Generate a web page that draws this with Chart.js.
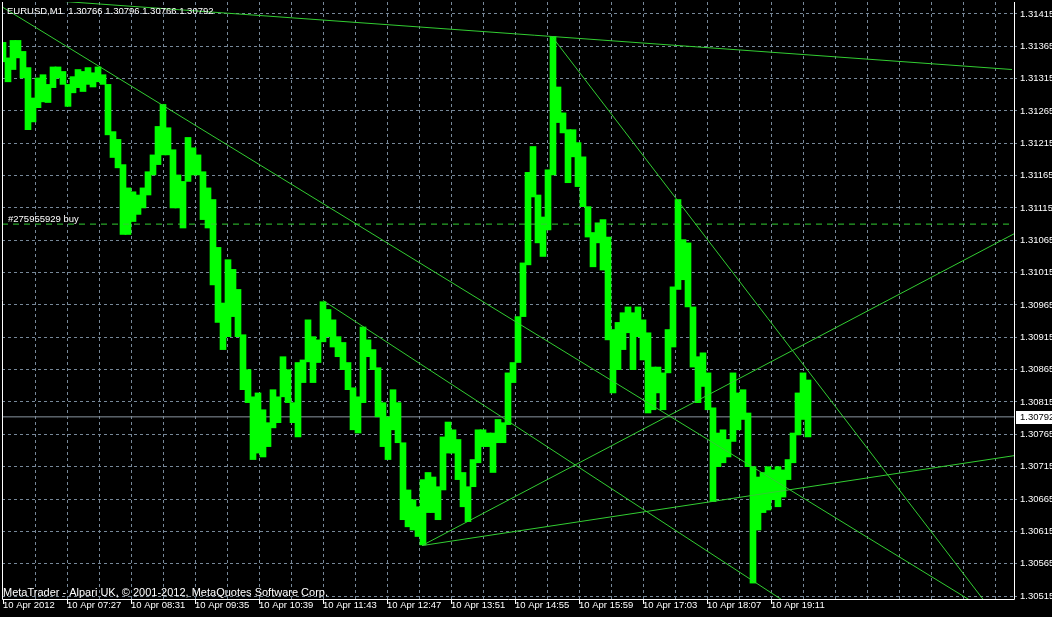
<!DOCTYPE html>
<html>
<head>
<meta charset="utf-8">
<script src="https://cdn.jsdelivr.net/npm/chart.js@4.4.0/dist/chart.umd.min.js"></script>
<style>
  html, body { margin: 0; padding: 0; background: #000; }
  canvas { display: block; }
</style>
</head>
<body>
<canvas id="priceChart" width="1052" height="617"></canvas>
<script>
// bar times, minutes since midnight (5 minute columns)
const barTimes = [
  383,388,393,398,403,408,413,418,423,428,433,438,443,448,453,458,463,468,473,478,
  483,488,493,498,503,508,513,518,523,528,533,538,543,548,553,558,563,568,573,578,
  583,588,593,598,603,608,613,618,623,628,633,638,643,648,653,658,663,668,673,678,
  683,688,693,698,703,708,713,718,723,728,733,738,743,748,753,758,763,768,773,778,
  783,788,793,798,803,808,813,818,823,828,833,838,843,848,853,858,863,868,873,878,
  883,888,893,898,903,908,913,918,923,928,933,938,943,948,953,958,963,968,973,978,
  983,988,993,998,1003,1008,1013,1018,1023,1028,1033,1038,1043,1048,1053,1058,1063,1068,1073,1078,
  1083,1088,1093,1098,1103,1108,1113,1118,1123,1128,1133,1138,1143,1148,1153,1158,1163,1168,1173,1178,
  1183,1188
];
const highs = [
  1.31371,1.31347,1.31374,1.31374,1.31357,1.31332,1.31285,1.31316,1.31321,1.31306,
  1.31333,1.31333,1.31326,1.31306,1.31318,1.31329,1.31326,1.31332,1.31324,1.31333,
  1.31321,1.31306,1.31233,1.31221,1.31182,1.31146,1.31140,1.31135,1.31146,1.31171,
  1.31197,1.31241,1.31275,1.31239,1.31205,1.31166,1.31156,1.31224,1.31208,1.31197,
  1.31171,1.31146,1.31128,1.31054,1.30968,1.31035,1.31020,1.30989,1.30919,1.30865,
  1.30823,1.30829,1.30803,1.30783,1.30834,1.30823,1.30885,1.30865,1.30814,1.30876,
  1.30880,1.30942,1.30916,1.30911,1.30970,1.30958,1.30942,1.30916,1.30907,1.30876,
  1.30837,1.30823,1.30931,1.30911,1.30896,1.30868,1.30814,1.30792,1.30834,1.30814,
  1.30752,1.30679,1.30664,1.30653,1.30695,1.30706,1.30699,1.30684,1.30761,1.30784,
  1.30772,1.30757,1.30706,1.30684,1.30726,1.30772,1.30772,1.30767,1.30767,1.30788,
  1.30783,1.30860,1.30876,1.30947,1.31030,1.31170,1.31210,1.31135,1.31101,1.31174,
  1.31380,1.31302,1.31262,1.31236,1.31236,1.31216,1.31194,1.31117,1.31077,1.31092,
  1.31097,1.31070,1.30927,1.30938,1.30953,1.30962,1.30953,1.30962,1.30942,1.30922,
  1.30869,1.30869,1.30860,1.30927,1.30993,1.31128,1.31066,1.31061,1.30962,1.30885,
  1.30891,1.30860,1.30806,1.30767,1.30772,1.30757,1.30860,1.30829,1.30834,1.30798,
  1.30715,1.30699,1.30706,1.30715,1.30710,1.30715,1.30710,1.30726,1.30767,1.30829,
  1.30860,1.30849
];
const lows = [
  1.31341,1.31310,1.31329,1.31347,1.31316,1.31236,1.31248,1.31270,1.31279,1.31278,
  1.31301,1.31316,1.31306,1.31272,1.31293,1.31301,1.31295,1.31306,1.31302,1.31310,
  1.31306,1.31228,1.31193,1.31177,1.31074,1.31074,1.31094,1.31105,1.31115,1.31135,
  1.31166,1.31182,1.31197,1.31197,1.31115,1.31115,1.31084,1.31156,1.31166,1.31166,
  1.31097,1.31084,1.30996,1.30938,1.30896,1.30916,1.30947,1.30916,1.30834,1.30814,
  1.30726,1.30736,1.30730,1.30746,1.30775,1.30783,1.30823,1.30814,1.30783,1.30761,
  1.30845,1.30877,1.30845,1.30876,1.30908,1.30916,1.30900,1.30885,1.30865,1.30834,
  1.30772,1.30767,1.30814,1.30885,1.30865,1.30792,1.30746,1.30726,1.30772,1.30752,
  1.30633,1.30622,1.30617,1.30607,1.30594,1.30644,1.30644,1.30633,1.30679,1.30736,
  1.30736,1.30695,1.30653,1.30630,1.30684,1.30721,1.30746,1.30746,1.30706,1.30752,
  1.30752,1.30780,1.30845,1.30876,1.30947,1.31027,1.31132,1.31061,1.31040,1.31081,
  1.31166,1.31247,1.31231,1.31154,1.31194,1.31148,1.31117,1.31070,1.31024,1.31061,
  1.31019,1.30911,1.30829,1.30865,1.30896,1.30922,1.30865,1.30916,1.30880,1.30798,
  1.30803,1.30829,1.30803,1.30860,1.30900,1.30989,1.31004,1.30962,1.30869,1.30814,
  1.30839,1.30803,1.30661,1.30715,1.30721,1.30730,1.30754,1.30772,1.30788,1.30715,
  1.30535,1.30617,1.30644,1.30648,1.30664,1.30653,1.30668,1.30695,1.30721,1.30764,
  1.30788,1.30761
];

const priceTicks = [
  1.31415, 1.31365, 1.31315, 1.31265, 1.31215, 1.31165, 1.31115, 1.31065, 1.31015, 1.30965,
  1.30915, 1.30865, 1.30815, 1.30765, 1.30715, 1.30665, 1.30615, 1.30565, 1.30515
];
const timeTickMinutes = [383, 447, 511, 575, 639, 703, 767, 831, 895, 959, 1023, 1087, 1151];
const timeTickLabels = [
  "10 Apr 2012", "10 Apr 07:27", "10 Apr 08:31", "10 Apr 09:35", "10 Apr 10:39",
  "10 Apr 11:43", "10 Apr 12:47", "10 Apr 13:51", "10 Apr 14:55", "10 Apr 15:59",
  "10 Apr 17:03", "10 Apr 18:07", "10 Apr 19:11"
];

// trend lines: [time1, price1, time2, price2]
const trendLines = [
  [383, 1.31441, 1392, 1.31329],
  [383, 1.31425, 1360, 1.30499],
  [932, 1.31380, 1365, 1.30506],
  [703, 1.30972, 1170, 1.30501],
  [802, 1.30593, 1394, 1.31075],
  [802, 1.30593, 1394, 1.30732]
];
const buyPrice = 1.31090;
const bidPrice = 1.30792;
const quote = ["1.30766", "1.30796", "1.30766", "1.30792"];

const gridMinutes = [];
for (let m = 415; m <= 1394; m += 32) gridMinutes.push(m);
const xTickValues = [383].concat(gridMinutes);

const fontFamily = "'Liberation Sans', Arial, sans-serif";
const axisFont = { family: fontFamily, size: 9.5 };

const overlay = {
  id: "overlay",
  afterDraw(chart) {
    const ctx = chart.ctx;
    const a = chart.chartArea;
    const y = chart.scales.y;
    ctx.save();
    ctx.strokeStyle = "#ffffff";
    ctx.lineWidth = 1;
    ctx.beginPath();
    ctx.moveTo(a.left + 0.5, a.top);
    ctx.lineTo(a.left + 0.5, a.bottom + 0.5);
    ctx.lineTo(a.right + 0.5, a.bottom + 0.5);
    ctx.lineTo(a.right + 0.5, a.top);
    ctx.stroke();

    ctx.fillStyle = "#ffffff";
    ctx.textBaseline = "alphabetic";
    ctx.font = "9.5px " + fontFamily;
    ctx.fillText("EURUSD,M1  " + quote.join(" "), 7, 14);
    const buyY = y.getPixelForValue(buyPrice);
    ctx.fillText("#275955929 buy", 8, Math.round(buyY) - 2);
    ctx.font = "11px " + fontFamily;
    ctx.fillText("MetaTrader - Alpari UK, \u00a9 2001-2012, MetaQuotes Software Corp.", 3, 596);

    const by = Math.round(y.getPixelForValue(bidPrice));
    ctx.font = "9.5px " + fontFamily;
    ctx.fillRect(a.right + 2, by - 6, 40, 13);
    ctx.fillStyle = "#000000";
    ctx.textBaseline = "middle";
    ctx.fillText(bidPrice.toFixed(5), a.right + 6, by + 0.5);
    ctx.restore();
  }
};

const lineSet = (points, color, dash, order) => ({
  type: "line",
  data: points,
  borderColor: color,
  borderWidth: 1,
  borderDash: dash,
  pointRadius: 0,
  tension: 0,
  fill: false,
  order: order
});

const datasets = [
  {
    type: "bar",
    data: barTimes.map((t, i) => ({ x: t, y: [lows[i], highs[i]] })),
    backgroundColor: "#00ff00",
    borderWidth: 0,
    barThickness: 6,
    order: 2
  },
  lineSet([{ x: 382, y: bidPrice }, { x: 1394, y: bidPrice }], "#8a95a0", [], 3),
  lineSet([{ x: 382, y: buyPrice }, { x: 1394, y: buyPrice }], "#32cd32", [6, 5], 1)
];
trendLines.forEach(l => {
  datasets.push(lineSet([{ x: l[0], y: l[1] }, { x: l[2], y: l[3] }], "#32cd32", [], 1));
});

new Chart(document.getElementById("priceChart").getContext("2d"), {
  type: "bar",
  data: { datasets: datasets },
  plugins: [overlay],
  options: {
    responsive: false,
    animation: false,
    layout: { padding: { left: 2, top: 2, right: 0, bottom: 0 } },
    plugins: {
      legend: { display: false },
      tooltip: { enabled: false }
    },
    scales: {
      x: {
        type: "linear",
        min: 382,
        max: 1394,
        bounds: "data",
        offset: false,
        afterBuildTicks: axis => { axis.ticks = xTickValues.map(v => ({ value: v })); },
        afterFit: axis => { axis.height = 18; axis.paddingLeft = 0; axis.paddingRight = 0; },
        grid: {
          offset: false,
          color: c => (c.tick && c.tick.value === 383) ? "rgba(0,0,0,0)" : "#778899",
          tickColor: c => (c.tick && timeTickMinutes.indexOf(c.tick.value) >= 0) ? "#ffffff" : "rgba(0,0,0,0)",
          tickLength: 5
        },
        border: { display: false, dash: [3, 3] },
        ticks: {
          autoSkip: false,
          maxRotation: 0,
          minRotation: 0,
          align: "start",
          padding: -4,
          color: "#ffffff",
          font: axisFont,
          callback: v => {
            const i = timeTickMinutes.indexOf(v);
            return i >= 0 ? timeTickLabels[i] : "";
          }
        }
      },
      y: {
        position: "right",
        min: 1.305104,
        max: 1.314334,
        bounds: "data",
        afterBuildTicks: axis => { axis.ticks = priceTicks.map(v => ({ value: v })); },
        afterFit: axis => { axis.width = 38; axis.paddingTop = 0; axis.paddingBottom = 0; },
        grid: { color: "#778899", tickColor: "#778899", tickLength: 3 },
        border: { display: false, dash: [3, 3] },
        ticks: {
          padding: 3,
          color: "#ffffff",
          font: axisFont,
          callback: v => v.toFixed(5)
        }
      }
    }
  }
});
</script>
</body>
</html>
